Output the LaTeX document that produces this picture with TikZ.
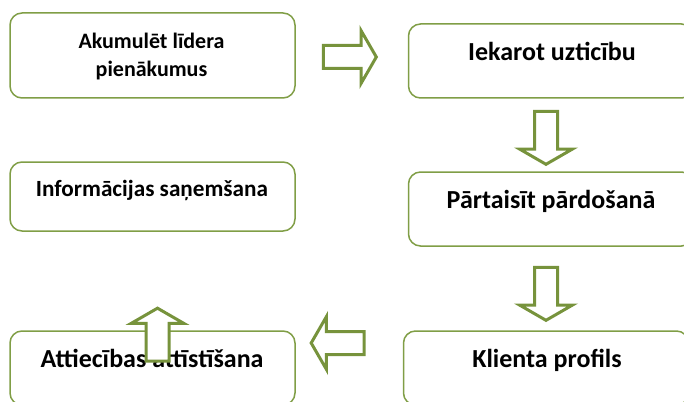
\documentclass[tikz,border=0pt]{standalone}
\usepackage{fontspec}
\setmainfont{Carlito}
\usetikzlibrary{shapes.arrows, calc}
\definecolor{leafgreen}{RGB}{119,147,60}
\definecolor{boxgreen}{RGB}{128,158,70}

\begin{document}
\begin{tikzpicture}[x=1pt, y=-1pt,
  stepbox/.style={draw=boxgreen, line width=1.5pt, rounded corners=12pt, fill=white,
    minimum width=285pt, minimum height=74pt, inner sep=0pt},
  steptext/.style={font=\bfseries\fontsize{26}{28}\selectfont, anchor=base, inner sep=0pt, align=center},
  blockarrow/.style={single arrow, draw=leafgreen, line width=3pt, fill=white, inner sep=10pt,
    single arrow head extend=15pt, single arrow tip angle=120, minimum height=53pt}]
  \useasboundingbox (0,0) rectangle (684,401);

  \node[stepbox, minimum height=85pt] (b1) at (152.5,55.5) {};
  \node[stepbox] (b2) at (551,61) {};
  \node[stepbox] (b3) at (551,209) {};
  \node[stepbox, minimum height=69pt] (b4) at (152.5,196.5) {};
  \node[stepbox] (b5) at (152.5,368) {};
  \node[stepbox] (b6) at (546,368) {};

  \node[steptext, font=\bfseries\fontsize{22}{28}\selectfont, anchor=north] (t1) at (151.5,33) {Akumulēt līdera\\pienākumus};
  \node[steptext] (t2) at (552,61) {Iekarot uzticību};
  \node[steptext] (t3) at (551,208) {Pārtaisīt pārdošanā};
  \node[steptext, font=\bfseries\fontsize{23.2}{28}\selectfont] (t4) at (152,196) {Informācijas saņemšana};
  \node[steptext] (t5) at (152,367) {Attiecības attīstīšana};
  \node[steptext] (t6) at (547,367) {Klienta profils};

  \node[blockarrow] (a1) at (346.5,57) {};
  \node[blockarrow, shape border rotate=270] (a2) at (546,134.5) {};
  \node[blockarrow, shape border rotate=270] (a3) at (546,290.5) {};
  \node[blockarrow, shape border rotate=180] (a4) at (341,343) {};
  \node[blockarrow, shape border rotate=90] (a5) at (157.5,338) {};
\end{tikzpicture}
\end{document}
